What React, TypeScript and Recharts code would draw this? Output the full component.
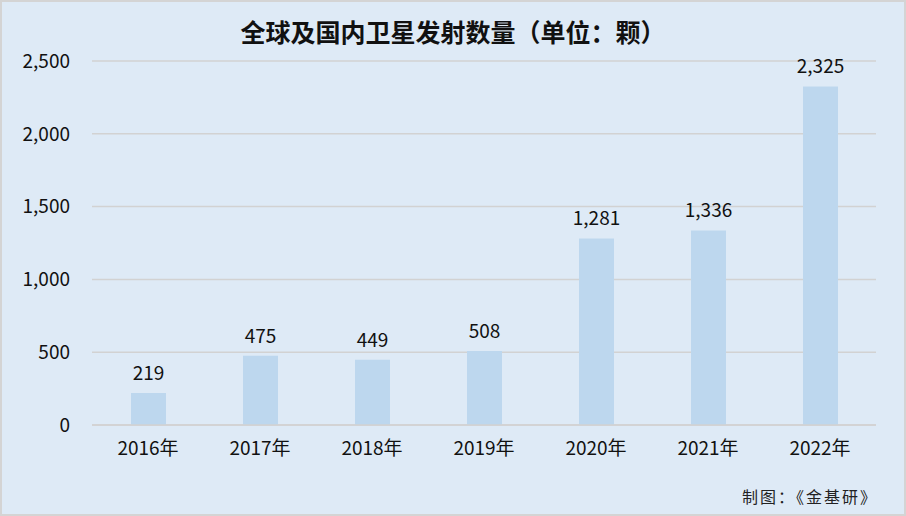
import React from "react"
import { Bar, BarChart, CartesianGrid, LabelList, XAxis, YAxis } from "recharts"

const years = ["2016年", "2017年", "2018年", "2019年", "2020年", "2021年", "2022年"]
const launches = [219, 475, 449, 508, 1281, 1336, 2325]
const yTicks = [0, 500, 1000, 1500, 2000, 2500]

const data = years.map((year, i) => ({ year, value: launches[i] }))

const font = "'Noto Sans CJK SC', 'Noto Sans', sans-serif"
const fmt = (v: number) => v.toLocaleString("en-US")

export default function App() {
  return (
    <div style={{ position: "absolute", left: 0, top: 0, width: 906, height: 516, background: "#DEEAF6", fontFamily: font }}>
      <div
        style={{
          position: "absolute",
          inset: 0,
          border: "2px solid #d4d4d4",
          boxSizing: "border-box",
          pointerEvents: "none",
        }}
      />
      <div
        style={{
          position: "absolute",
          top: 15,
          left: 0,
          width: 906,
          textAlign: "center",
          fontSize: 25,
          lineHeight: "32px",
          fontWeight: 700,
          color: "#111",
        }}
      >
        全球及国内卫星发射数量（单位：颗）
      </div>
      <BarChart
        width={906}
        height={516}
        data={data}
        margin={{ top: 61, right: 30, bottom: 51, left: 0 }}
        style={{ position: "absolute", left: 0, top: 0 }}
      >
        <CartesianGrid vertical={false} stroke="#d2d2d2" strokeWidth={1.5} />
        <XAxis
          dataKey="year"
          height={40}
          tickLine={false}
          tickSize={0}
          tickMargin={17}
          axisLine={{ stroke: "#d2d2d2", strokeWidth: 1.5 }}
          tick={{ fill: "#111", fontSize: 19, fontFamily: font }}
        />
        <YAxis
          width={92}
          domain={[0, 2500]}
          ticks={yTicks}
          tickFormatter={fmt}
          axisLine={false}
          tickLine={false}
          tickSize={0}
          tickMargin={22}
          tick={{ fill: "#111", fontSize: 19, fontFamily: font }}
        />
        <Bar dataKey="value" fill="#BDD7EE" barSize={35} isAnimationActive={false}>
          <LabelList
            dataKey="value"
            position="top"
            offset={13}
            formatter={(v: any) => fmt(Number(v))}
            style={{ fill: "#111", fontSize: 19, fontFamily: font }}
          />
        </Bar>
      </BarChart>
      <div style={{ position: "absolute", right: 28, top: 484, fontSize: 16, color: "#222", letterSpacing: 2 }}>
        制图：《金基研》
      </div>
    </div>
  )
}
